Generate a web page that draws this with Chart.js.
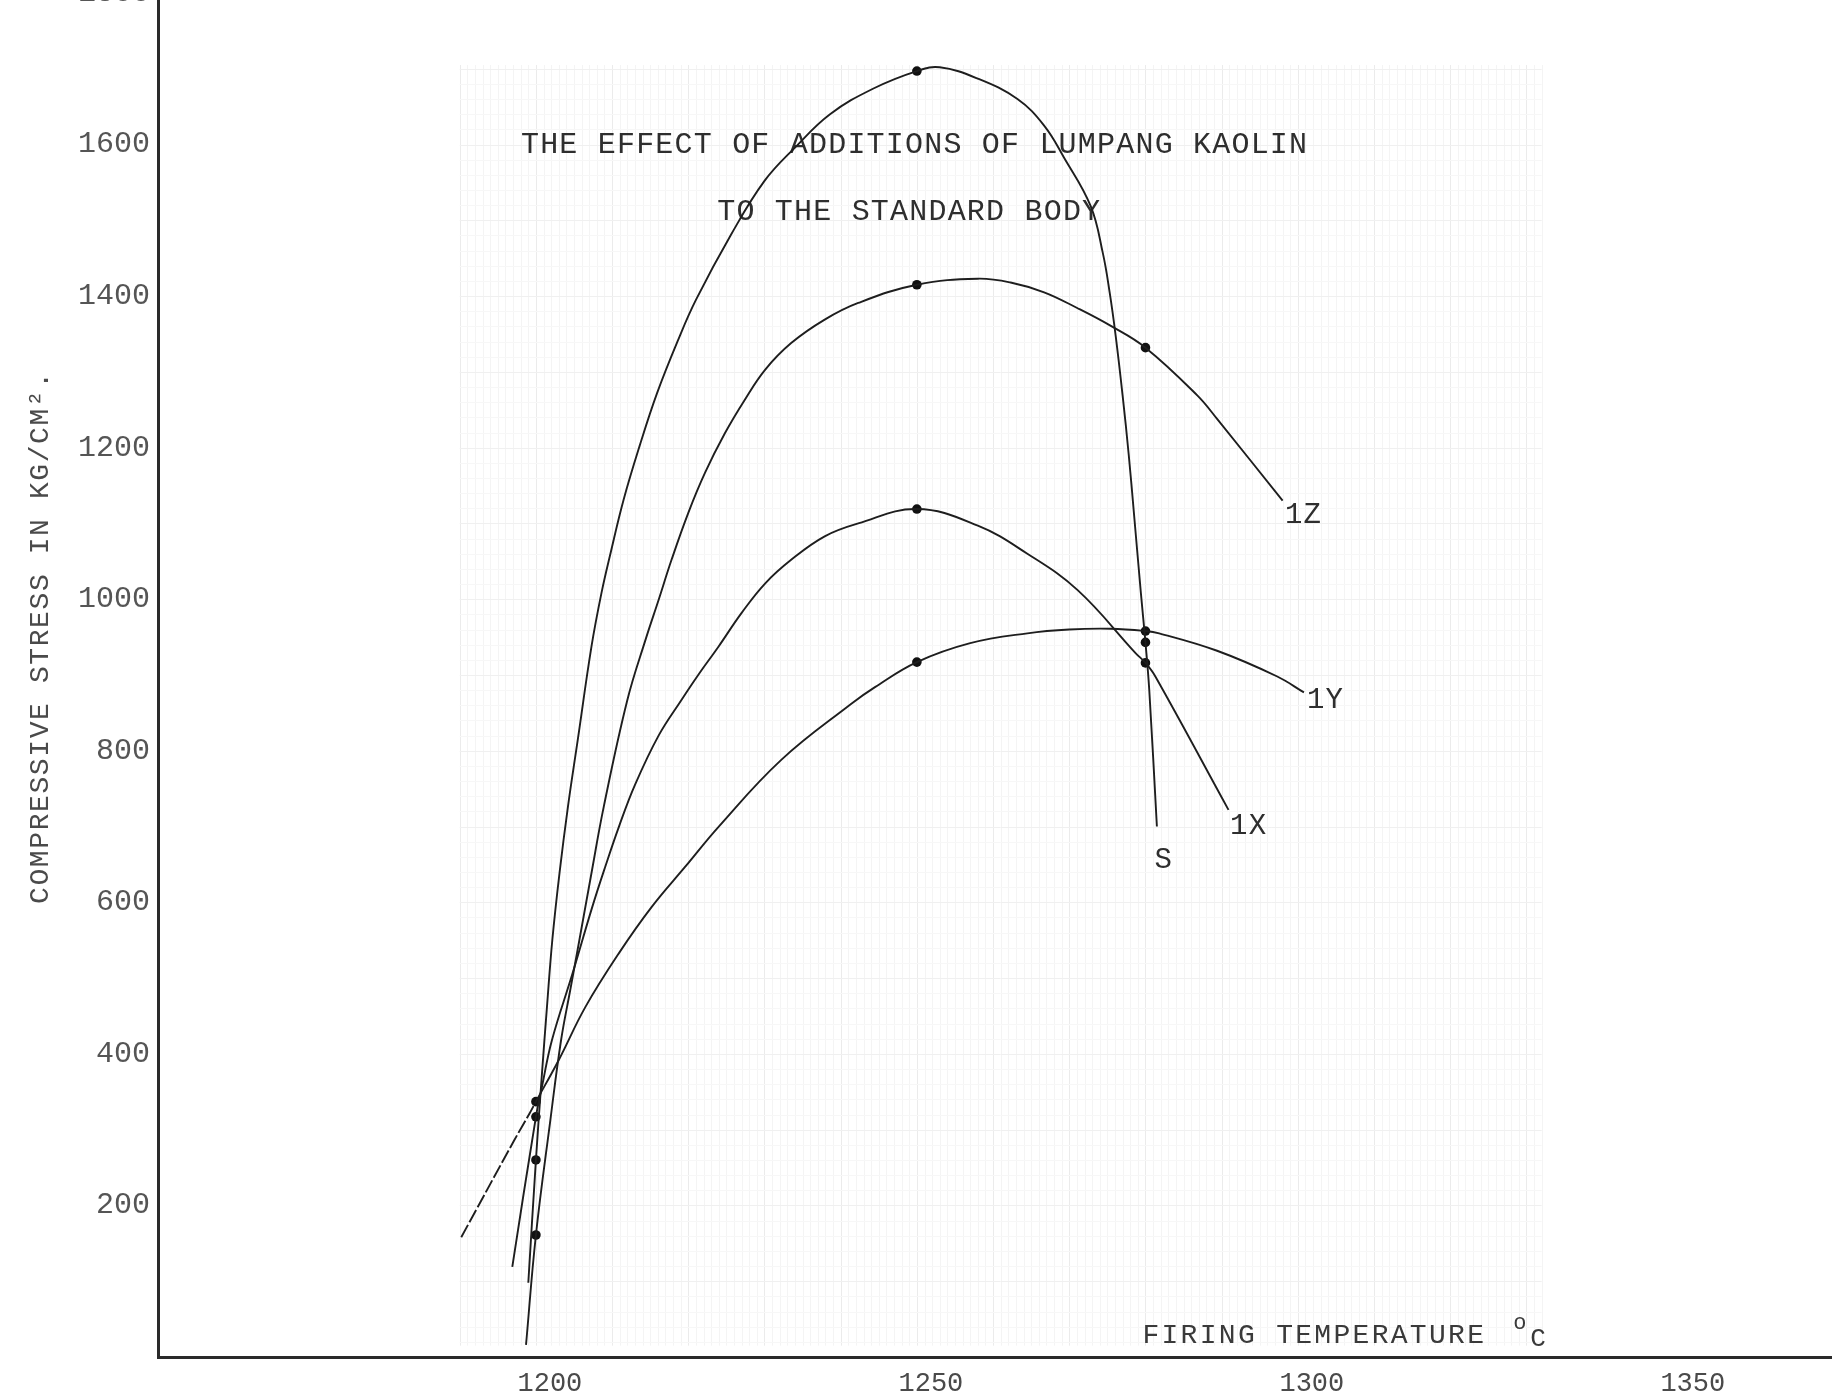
<!DOCTYPE html>
<html>
<head>
<meta charset="utf-8">
<title>Lumpang kaolin</title>
<script src="https://cdn.jsdelivr.net/npm/chart.js@4.4.1/dist/chart.umd.min.js"></script>
<style>
    html, body { margin: 0; padding: 0; background: #fff; overflow: hidden; }
    #wrap { position: absolute; left: 0; top: -27px; width: 1836px; height: 1427px; }
</style>
</head>
<body>
<div id="wrap"><canvas id="chart" width="1836" height="1427"></canvas></div>
<script>
// 数据: firing temperature (°C) vs compressive stress (kg/cm2)
const xTickValues = [1200, 1250, 1300, 1350];
const yTickValues = [200, 400, 600, 800, 1000, 1200, 1400, 1600, 1800];

const seriesNames = ['S', '1X', '1Y', '1Z'];

const tempS = [1199.0, 1200, 1200.8, 1201.45, 1202.15, 1203.1, 1204.2, 1205.5, 1207.3, 1208.6, 1209.8, 1211.5, 1213.6, 1215.9, 1218.7, 1221.0, 1225.6, 1230.0, 1234.0, 1238.6, 1244.3, 1250, 1253, 1258.0, 1263.2, 1266.7, 1269.3, 1272.8, 1274.4, 1275.3, 1276.1, 1277.0, 1277.8, 1278.5, 1279.4, 1280, 1280.5, 1281.5];
const stressS = [98, 260, 375, 462, 550, 639, 726, 815, 938, 1008, 1061, 1131, 1202, 1272, 1343, 1395, 1481, 1552, 1596, 1640, 1674, 1697, 1702, 1687, 1660, 1625, 1583, 1519, 1457, 1405, 1347, 1269, 1191, 1112, 1008, 943, 880, 700];

const temp1X = [1196.9, 1200, 1200.8, 1202.1, 1204.8, 1207.4, 1209.1, 1210.9, 1213.0, 1216.1, 1219.1, 1221.3, 1224.0, 1227.0, 1230.1, 1233.5, 1237.9, 1242.3, 1250, 1258, 1264.5, 1271.1, 1278.7, 1280, 1281.3, 1290.9];
const stress1X = [119, 317, 357, 418, 506, 594, 647, 700, 755, 820, 867, 900, 938, 982, 1021, 1052, 1083, 1100, 1119, 1097, 1060, 1012, 929, 916, 898, 722];

const temp1Y = [1190.2, 1197.1, 1199.2, 1200, 1203.0, 1206.5, 1210.9, 1215.2, 1219.6, 1224.0, 1232.2, 1241.4, 1244.5, 1250, 1257, 1264.5, 1270, 1275.4, 1280, 1281.8, 1289.4, 1297.3, 1300.8];
const stress1Y = [158, 285, 322, 337, 392, 462, 533, 594, 647, 700, 788, 862, 884, 917, 942, 955, 960, 961, 958, 955, 932, 898, 877];

const temp1Z = [1198.7, 1200, 1201.9, 1203.3, 1204.5, 1205.7, 1207.3, 1208.9, 1212.0, 1214.4, 1216.1, 1217.8, 1220.0, 1222.2, 1224.8, 1227.4, 1230.1, 1233.5, 1237.9, 1242.3, 1250, 1258, 1262.3, 1266.7, 1271.1, 1275.4, 1280, 1286.8, 1289.4, 1298.0];
const stress1Z = [16, 161, 313, 418, 484, 550, 639, 726, 867, 947, 999, 1052, 1114, 1167, 1219, 1263, 1303, 1338, 1369, 1391, 1415, 1423, 1418, 1405, 1384, 1361, 1332, 1269, 1238, 1130];

// measured points (the dots)
const testTemps = [1200, 1250, 1280];
const dotS = [260, 1697, 943];
const dot1X = [317, 1119, 916];
const dot1Y = [337, 917, 958];
const dot1Z = [161, 1415, 1332];

const typeFont = '"Liberation Mono", "DejaVu Sans Mono", monospace';
const inkColor = '#1e1e1e';

function toPoints(xs, ys) {
    return xs.map((x, i) => ({ x: x, y: ys[i] }));
}

function curve(name, xs, ys, dashedTail) {
    return {
        label: name,
        data: toPoints(xs, ys),
        showLine: true,
        borderColor: inkColor,
        borderWidth: 1.9,
        pointRadius: 0,
        tension: 0.4,
        segment: dashedTail ? {
            borderDash: c => c.p1.parsed.x <= 1200 ? [14, 3] : undefined
        } : undefined
    };
}

function dots(name, ys) {
    return {
        label: name + ' points',
        data: toPoints(testTemps, ys),
        showLine: false,
        pointRadius: 4.8,
        pointBackgroundColor: '#111',
        pointBorderWidth: 0
    };
}

// 文字标注 (text on the sheet)
const curveLabels = [
    { text: 'S', temp: 1281.2, stress: 645 },
    { text: '1X', temp: 1291.1, stress: 690 },
    { text: '1Y', temp: 1301.2, stress: 856 },
    { text: '1Z', temp: 1298.3, stress: 1101 }
];

const sheetPlugin = {
    id: 'sheet',
    beforeDatasetsDraw(chart) {
        const { ctx, scales: { x, y }, chartArea } = chart;
        ctx.save();

        // faint graph paper
        const top = y.getPixelForValue(1705), bottom = y.getPixelForValue(15);
        const left = x.getPixelForValue(1190), right = x.getPixelForValue(1332);
        ctx.lineWidth = 1;
        for (let t = 1190; t <= 1332; t += 1) {
            const px = Math.round(x.getPixelForValue(t)) + 0.5;
            ctx.strokeStyle = t % 10 === 0 ? '#ebebeb' : '#f4f4f4';
            ctx.beginPath(); ctx.moveTo(px, top); ctx.lineTo(px, bottom); ctx.stroke();
        }
        for (let s = 20; s <= 1700; s += 20) {
            const py = Math.round(y.getPixelForValue(s)) + 0.5;
            ctx.strokeStyle = s % 100 === 0 ? '#f0f0f0' : '#f7f7f7';
            ctx.beginPath(); ctx.moveTo(left, py); ctx.lineTo(right, py); ctx.stroke();
        }

        ctx.fillStyle = '#2e2e2e';
        ctx.textBaseline = 'alphabetic';
        if ('letterSpacing' in ctx) ctx.letterSpacing = '1.2px';

        // title
        ctx.font = '30px ' + typeFont;
        ctx.textAlign = 'center';
        ctx.fillText('THE EFFECT OF ADDITIONS OF LUMPANG KAOLIN', x.getPixelForValue(1249.7), y.getPixelForValue(1589));
        ctx.fillText('TO THE STANDARD BODY', x.getPixelForValue(1249.0), y.getPixelForValue(1500));

        // curve names
        ctx.textAlign = 'left';
        ctx.font = '29px ' + typeFont;
        curveLabels.forEach(l => {
            ctx.fillText(l.text, x.getPixelForValue(l.temp), y.getPixelForValue(l.stress));
        });

        // x axis title
        ctx.fillStyle = '#3a3a3a';
        if ('letterSpacing' in ctx) ctx.letterSpacing = '2.3px';
        ctx.font = '28px ' + typeFont;
        const fx = x.getPixelForValue(1279.6), fy = y.getPixelForValue(18.5);
        ctx.fillText('FIRING TEMPERATURE', fx, fy);
        const w = ctx.measureText('FIRING TEMPERATURE ').width;
        ctx.font = '22px ' + typeFont;
        ctx.fillText('o', fx + w + 8, fy - 14);
        ctx.font = '26px ' + typeFont;
        ctx.fillText('C', fx + w + 25, fy + 3);

        // y axis title
        ctx.save();
        ctx.translate(chartArea.left - 117, y.getPixelForValue(950));
        ctx.rotate(-Math.PI / 2);
        ctx.textAlign = 'center';
        ctx.textBaseline = 'middle';
        ctx.fillStyle = '#4a4a4a';
        ctx.font = '28px ' + typeFont;
        if ('letterSpacing' in ctx) ctx.letterSpacing = '1.6px';
        ctx.fillText('COMPRESSIVE STRESS IN KG/CM\u00B2.', 0, 0);
        ctx.restore();

        ctx.restore();
    }
};

window.onload = function() {
    const ctx = document.getElementById('chart').getContext('2d');
    new Chart(ctx, {
        type: 'scatter',
        data: {
            datasets: [
                curve(seriesNames[0], tempS, stressS, false),
                curve(seriesNames[1], temp1X, stress1X, false),
                curve(seriesNames[2], temp1Y, stress1Y, true),
                curve(seriesNames[3], temp1Z, stress1Z, false),
                dots(seriesNames[0], dotS),
                dots(seriesNames[1], dot1X),
                dots(seriesNames[2], dot1Y),
                dots(seriesNames[3], dot1Z)
            ]
        },
        options: {
            responsive: false,
            animation: false,
            layout: { padding: { top: 20, left: 0, right: 0, bottom: 0 } },
            scales: {
                x: {
                    type: 'linear',
                    min: 1150.4,
                    max: 1370,
                    afterBuildTicks: scale => { scale.ticks = xTickValues.map(v => ({ value: v })); },
                    afterFit: scale => { scale.height = 43; },
                    grid: { display: false },
                    border: { display: true, color: '#2a2a2a', width: 3 },
                    ticks: {
                        color: '#4a4a4a',
                        font: { family: typeFont, size: 27 },
                        padding: 3,
                        labelOffset: 14,
                        autoSkip: false,
                        maxRotation: 0,
                        callback: v => String(v)
                    }
                },
                y: {
                    type: 'linear',
                    min: 0,
                    max: 1800,
                    afterBuildTicks: scale => { scale.ticks = yTickValues.map(v => ({ value: v })); },
                    afterFit: scale => { scale.width = 158; },
                    grid: { display: false },
                    border: { display: true, color: '#2a2a2a', width: 3 },
                    ticks: {
                        color: '#555',
                        font: { family: typeFont, size: 30 },
                        padding: 0,
                        autoSkip: false,
                        callback: v => String(v)
                    }
                }
            },
            plugins: {
                legend: { display: false },
                tooltip: { enabled: false }
            }
        },
        plugins: [sheetPlugin]
    });
};
</script>
</body>
</html>
